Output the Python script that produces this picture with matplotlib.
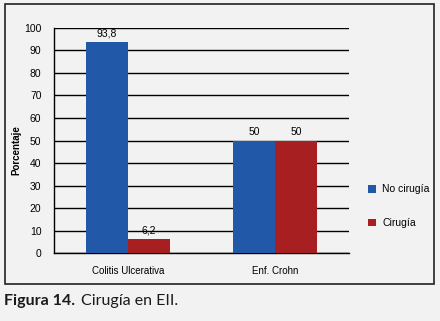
"""Bar chart: Cirugía en EII."""

import matplotlib.pyplot as plt
from matplotlib import patches
import numpy as np

categories = ['Colitis Ulcerativa', 'Enf. Crohn']
no_cirugia = [93.8, 50]
cirugia = [6.2, 50]
series_names = ['No cirugía', 'Cirugía']
yticks = [0, 10, 20, 30, 40, 50, 60, 70, 80, 90, 100]

blue = '#2158a8'
red = '#a81f22'
bg = '#f2f2f2'
narrow = ['Liberation Sans Narrow', 'Liberation Sans', 'DejaVu Sans']

fig = plt.figure(figsize=(4.4, 3.21), dpi=100, facecolor=bg)
ax = fig.add_axes([0.1227, 0.2118, 0.6705, 0.701])
ax.set_facecolor(bg)

# outer frame
fig.patches.append(patches.Rectangle((0.0114, 0.1153), 0.9746, 0.8722,
                                     transform=fig.transFigure, fill=False,
                                     edgecolor='#222222', linewidth=1.2))

x = np.arange(len(categories))
w = 0.285
b1 = ax.bar(x - w/2, no_cirugia, w, color=blue, label=series_names[0], zorder=3)
b2 = ax.bar(x + w/2, cirugia, w, color=red, label=series_names[1], zorder=3)

for bars in (b1, b2):
    for rect in bars:
        v = rect.get_height()
        txt = ('%g' % v).replace('.', ',')
        ax.text(rect.get_x() + rect.get_width()/2, v + 1.5, txt,
                ha='center', va='bottom', fontsize=7.5, family=narrow)

ax.set_xlim(-0.5, 1.5)
ax.set_ylim(0, 100)
ax.set_yticks(yticks)
ax.set_yticklabels([str(t) for t in yticks], fontsize=7.5, family=narrow)
ax.set_xticks(x)
ax.set_xticklabels(categories, fontsize=7, family=narrow)
ax.tick_params(axis='x', length=0, pad=9)
ax.tick_params(axis='y', length=0, pad=9)
ax.yaxis.grid(True, color='black', linewidth=1.0, zorder=0)
ax.set_axisbelow(True)
for s in ['right', 'top']:
    ax.spines[s].set_visible(False)
ax.spines['left'].set_linewidth(1.0)
ax.spines['bottom'].set_linewidth(1.0)

ax.set_ylabel('Porcentaje', fontsize=7, fontweight='bold', family=narrow)
ax.yaxis.set_label_coords(-0.112, 0.458)

leg = fig.legend(handles=[b1, b2], loc='upper left',
                 bbox_to_anchor=(0.815, 0.455), frameon=False,
                 handlelength=0.75, handleheight=0.75,
                 labelspacing=2.3, handletextpad=0.6,
                 prop={'family': narrow, 'size': 7.5})

# caption below the frame: bold part then regular part
t1 = fig.text(0.009, 0.05, 'Figura 14.', fontsize=11.5, fontweight='bold',
              family='Lato', color='#1a1a1a')
ax.annotate('Cirugía en EII.', xy=(1, 0), xycoords=t1,
            xytext=(4, 0), textcoords='offset points',
            fontsize=11.5, family='Lato', color='#1a1a1a',
            ha='left', va='bottom', annotation_clip=False)

fig.savefig('out.png', dpi=100, facecolor=bg)
